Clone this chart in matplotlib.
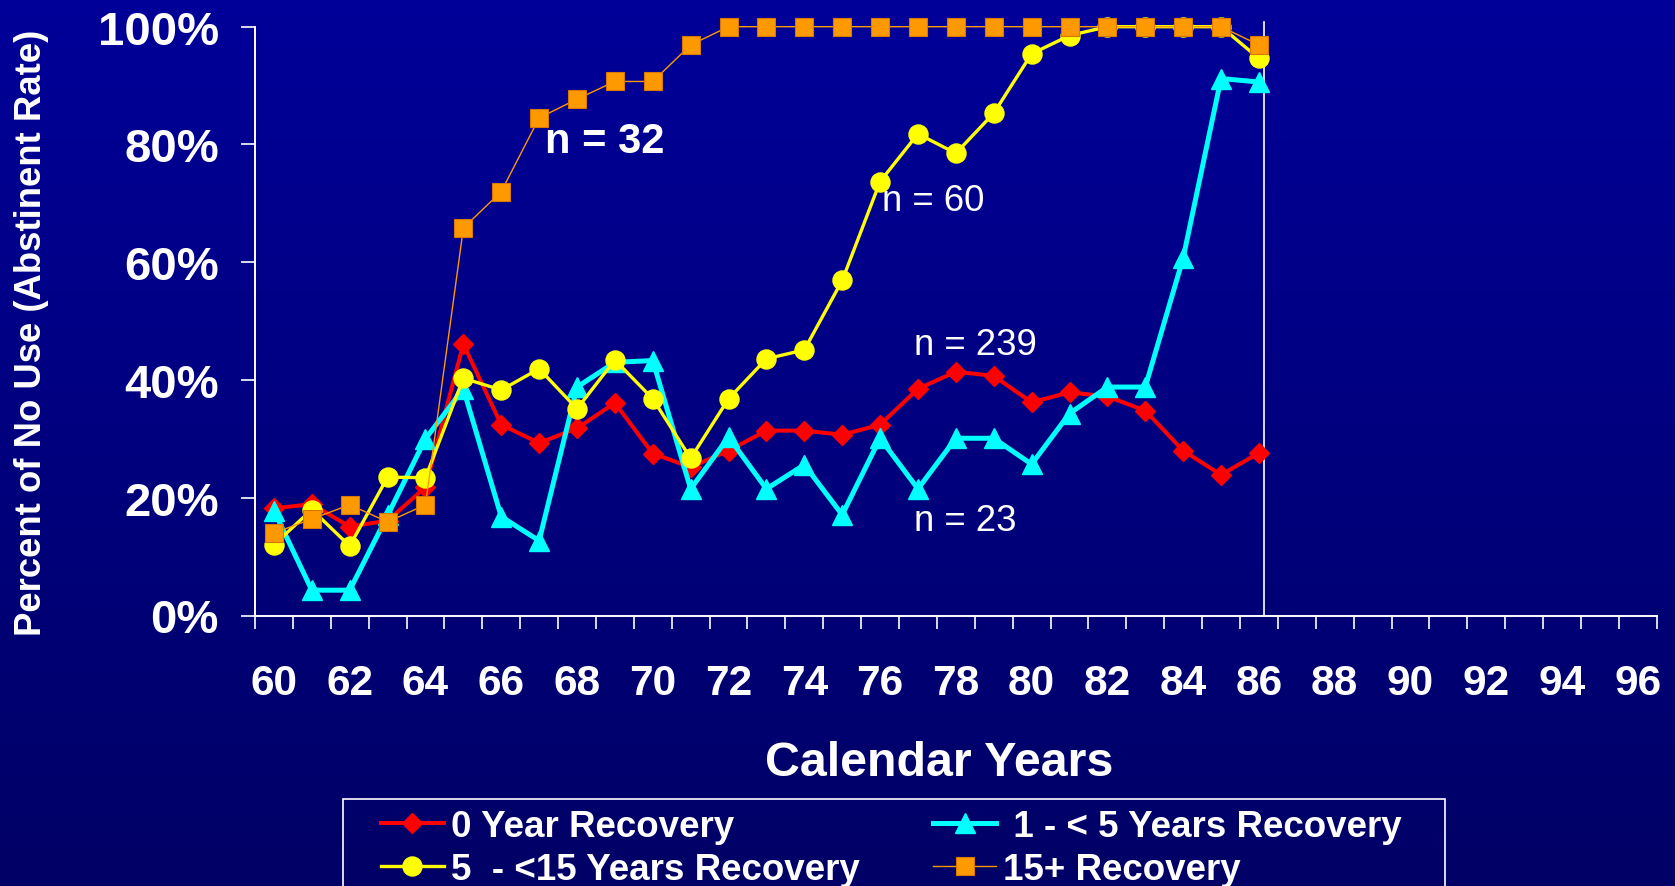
import numpy as np
import matplotlib
matplotlib.use('Agg')
import matplotlib.pyplot as plt
from matplotlib.patches import Rectangle
from matplotlib.colors import LinearSegmentedColormap

# ---------------- data ----------------
years_obs = list(range(60, 87))
x_tick_years = list(range(60, 97, 2))
x_labels = [str(y) for y in x_tick_years]
y_ticks = [0.0, 0.2, 0.4, 0.6, 0.8, 1.0]
y_labels = ['0%', '20%', '40%', '60%', '80%', '100%']

zero_year = [0.182, 0.189, 0.151, 0.161, 0.218, 0.461, 0.324, 0.293, 0.318,
             0.361, 0.275, 0.252, 0.280, 0.314, 0.314, 0.307, 0.324, 0.385,
             0.414, 0.407, 0.362, 0.379, 0.372, 0.348, 0.280, 0.239, 0.276]
one_to_five = [0.178, 0.043, 0.043, 0.170, 0.300, 0.385, 0.168, 0.127, 0.388,
               0.430, 0.433, 0.215, 0.303, 0.215, 0.256, 0.171, 0.301, 0.215,
               0.301, 0.301, 0.257, 0.343, 0.388, 0.388, 0.607, 0.912, 0.906]
five_to_fifteen = [0.120, 0.180, 0.118, 0.235, 0.234, 0.403, 0.383, 0.419, 0.351,
                   0.434, 0.368, 0.267, 0.368, 0.436, 0.451, 0.569, 0.737, 0.818,
                   0.785, 0.853, 0.954, 0.985, 1.0, 1.0, 1.0, 1.0, 0.946]
fifteen_plus = [0.140, 0.164, 0.188, 0.159, 0.188, 0.658, 0.720, 0.845, 0.877,
                0.907, 0.907, 0.969, 1.0, 1.0, 1.0, 1.0, 1.0, 1.0,
                1.0, 1.0, 1.0, 1.0, 1.0, 1.0, 1.0, 1.0, 0.969]

series_labels = ['0 Year Recovery', ' 1 - < 5 Years Recovery',
                 '5  - <15 Years Recovery', '15+ Recovery']

# ---------------- figure ----------------
plt.rcParams['font.family'] = ['Liberation Sans', 'DejaVu Sans']
W, H = 1675, 887
fig = plt.figure(figsize=(W / 100, H / 100), dpi=100)

bg = fig.add_axes([0, 0, 1, 1], zorder=-10)
grad = np.linspace(0, 1, 256).reshape(-1, 1)
cmap = LinearSegmentedColormap.from_list('bg', ['#000099', '#00007f', '#000066'])
bg.imshow(grad, aspect='auto', cmap=cmap, extent=[0, 1, 0, 1], origin='upper')
bg.axis('off')

ax = fig.add_axes([255 / W, (H - 616.5) / H, 1401.7 / W, 588.8 / H])
ax.patch.set_alpha(0)

x = np.array(years_obs)
h0, = ax.plot(x, zero_year, color='#FF0000', lw=2.9, marker='D', ms=10,
              mec='#FF0000', zorder=3, clip_on=False)
h1, = ax.plot(x, one_to_five, color='#00FFFF', lw=3.6, marker='^', ms=14.4,
              mec='#00FFFF', zorder=4, clip_on=False)
h2, = ax.plot(x, five_to_fifteen, color='#FFFF00', lw=2.4, marker='o', ms=13.7,
              mec='#FFFF00', zorder=5, clip_on=False)
h3, = ax.plot(x, fifteen_plus, color='#FF9900', lw=1.0, marker='s', ms=13.5,
              mec='#D87800', mew=0.8, zorder=6, clip_on=False)

ax.axvline(86.13, ymin=0, ymax=1.008, color='white', lw=1.2, clip_on=False, zorder=2)

ax.set_xlim(59.5, 96.5)
ax.set_ylim(0, 1)
for s in ['top', 'right']:
    ax.spines[s].set_visible(False)
for s in ['left', 'bottom']:
    ax.spines[s].set_color('white')
    ax.spines[s].set_linewidth(1.4)

ax.set_yticks(y_ticks)
ax.set_yticklabels(y_labels, fontweight='bold')
ax.tick_params(axis='y', direction='out', length=10, width=1.2, color='white',
               labelcolor='white', labelsize=34, pad=16)

ax.set_xticks(x_tick_years)
ax.set_xticklabels(x_labels, fontweight='bold')
ax.set_xticks(np.arange(59.5, 97.0, 1.0), minor=True)
ax.tick_params(axis='x', which='major', length=0, pad=34.5, labelsize=30.5,
               labelcolor='white')
ax.tick_params(axis='x', which='minor', direction='out', length=9.4, width=1.2,
               color='white')

# annotations
ax.text(67.16, 0.787, 'n = 32', fontsize=30, fontweight='bold', color='white',
        ha='left', va='baseline')
ax.text(76.05, 0.689, 'n = 60', fontsize=26.3, color='white', ha='left', va='baseline')
ax.text(76.89, 0.444, 'n = 239', fontsize=26.3, color='white', ha='left', va='baseline')
ax.text(76.89, 0.146, 'n = 23', fontsize=26.3, color='white', ha='left', va='baseline')

# axis titles
fig.text(32 / W, 1 - 333 / H, 'Percent of No Use (Abstinent Rate)', rotation=90,
         ha='center', va='center', fontsize=26.3, fontweight='bold', color='white')
fig.text(939.5 / W, (H - 776) / H, 'Calendar Years', ha='center', va='baseline',
         fontsize=34.8, fontweight='bold', color='white')

# legend
leg = fig.legend(handles=[h0, h2, h1, h3],
                 labels=[series_labels[0], series_labels[2], series_labels[1], series_labels[3]],
                 ncol=2, loc='upper left', bbox_to_anchor=(381 / W, 1 - 810 / H),
                 frameon=False, prop={'weight': 'bold', 'size': 26.5},
                 handlelength=1.7, handletextpad=0.2, columnspacing=2.0,
                 labelspacing=0.22, borderpad=0, borderaxespad=0, labelcolor='white')

rect = Rectangle((342.7 / W, -0.1), (1445 - 342.7) / W, (H - 800) / H + 0.1,
                 transform=fig.transFigure, fill=False, edgecolor='white', lw=1.2)
fig.add_artist(rect)

fig.savefig('out.png', dpi=100)
